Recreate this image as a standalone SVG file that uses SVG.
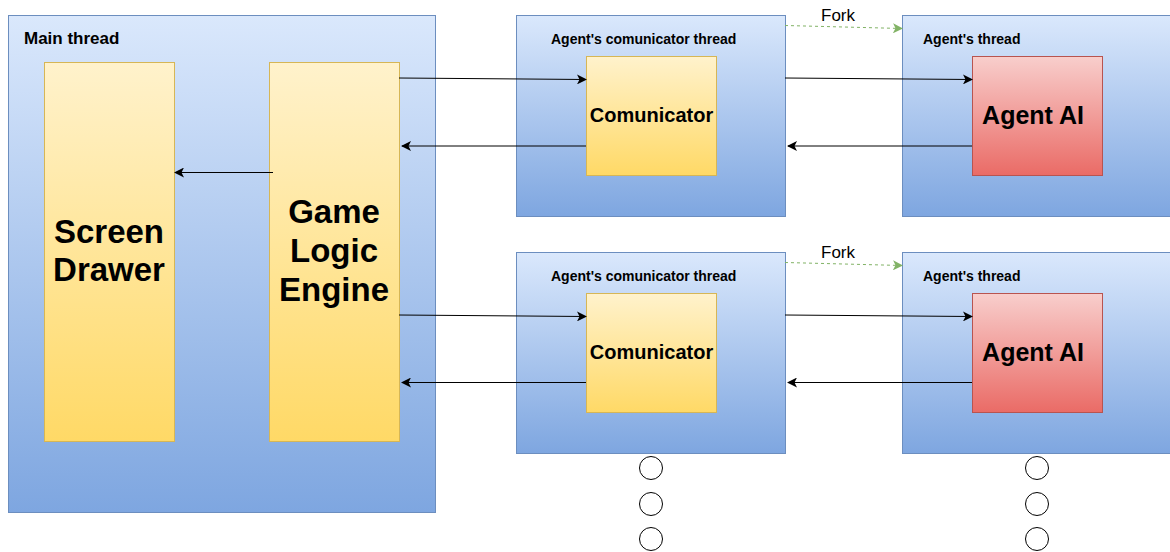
<svg xmlns="http://www.w3.org/2000/svg" width="1170" height="552" viewBox="0 0 1170 552">
  <defs>
    <linearGradient id="gBlue" x1="0" y1="0" x2="0" y2="1">
      <stop offset="0" stop-color="#dae8fc"/>
      <stop offset="1" stop-color="#7ea6e0"/>
    </linearGradient>
    <linearGradient id="gYellow" x1="0" y1="0" x2="0" y2="1">
      <stop offset="0" stop-color="#fff2cc"/>
      <stop offset="1" stop-color="#ffd966"/>
    </linearGradient>
    <linearGradient id="gRed" x1="0" y1="0" x2="0" y2="1">
      <stop offset="0" stop-color="#f8cecc"/>
      <stop offset="1" stop-color="#ea6b66"/>
    </linearGradient>
    <marker id="arrow" viewBox="0 0 10 10" refX="9" refY="5" markerWidth="10" markerHeight="10" markerUnits="userSpaceOnUse" orient="auto">
      <path d="M0,0 L10,5 L0,10 L2.5,5 Z" fill="#000"/>
    </marker>
    <marker id="arrowGreen" viewBox="0 0 10 10" refX="9" refY="5" markerWidth="10" markerHeight="10" markerUnits="userSpaceOnUse" orient="auto">
      <path d="M0,0 L10,5 L0,10 L2.5,5 Z" fill="#82b366"/>
    </marker>
  </defs>
  <style>
    .thread { fill: url(#gBlue); stroke: #6c8ebf; stroke-width: 1; }
    .yellow { fill: url(#gYellow); stroke: #d6b656; stroke-width: 1; }
    .red { fill: url(#gRed); stroke: #b85450; stroke-width: 1; }
    text { font-family: "Liberation Sans", Arial, Helvetica, sans-serif; fill: #000; }
    .title { font-weight: bold; font-size: 17px; }
    .small { font-weight: bold; font-size: 14px; }
    .big { font-weight: bold; font-size: 33px; text-anchor: middle; }
    .mid { font-weight: bold; font-size: 20px; text-anchor: middle; }
    .ai { font-weight: bold; font-size: 25px; text-anchor: middle; }
    .fork { font-size: 17px; text-anchor: middle; }
    .link { fill: none; stroke: #000; stroke-width: 1; marker-end: url(#arrow); }
    .forklink { fill: none; stroke: #82b366; stroke-width: 1; stroke-dasharray: 3 3; marker-end: url(#arrowGreen); }
    .dot { fill: #fff; stroke: #000; stroke-width: 1; }
  </style>

  <rect width="1170" height="552" fill="#fff"/>

  <!-- Main thread -->
  <g id="main-thread">
    <rect class="thread" x="8.5" y="15.5" width="427" height="497"/>
    <text class="title" x="24" y="44">Main thread</text>
  </g>
  <g id="screen-drawer">
    <rect class="yellow" x="44.5" y="62.5" width="130" height="379"/>
    <text class="big" x="109" y="243">Screen</text>
    <text class="big" x="109" y="281">Drawer</text>
  </g>
  <g id="game-logic-engine">
    <rect class="yellow" x="269.5" y="62.5" width="130" height="379"/>
    <text class="big" x="334" y="223">Game</text>
    <text class="big" x="334" y="262">Logic</text>
    <text class="big" x="334" y="301">Engine</text>
  </g>

  <!-- Agent 1 -->
  <g id="comm-thread-1">
    <rect class="thread" x="516.5" y="15.5" width="269" height="201"/>
    <text class="small" x="551" y="43.5">Agent's comunicator thread</text>
  </g>
  <g id="comunicator-1">
    <rect class="yellow" x="586.5" y="56.5" width="130" height="119"/>
    <text class="mid" x="651.5" y="121.5">Comunicator</text>
  </g>
  <g id="agent-thread-1">
    <rect class="thread" x="902.5" y="15.5" width="270" height="201"/>
    <text class="small" x="923" y="43.5">Agent's thread</text>
  </g>
  <g id="agent-ai-1">
    <rect class="red" x="972.5" y="56.5" width="130" height="119"/>
    <text class="ai" x="1033" y="123.5">Agent AI</text>
  </g>

  <!-- Agent 2 -->
  <g id="comm-thread-2">
    <rect class="thread" x="516.5" y="252.5" width="269" height="201"/>
    <text class="small" x="551" y="280.5">Agent's comunicator thread</text>
  </g>
  <g id="comunicator-2">
    <rect class="yellow" x="586.5" y="293.5" width="130" height="119"/>
    <text class="mid" x="651.5" y="358.5">Comunicator</text>
  </g>
  <g id="agent-thread-2">
    <rect class="thread" x="902.5" y="252.5" width="270" height="201"/>
    <text class="small" x="923" y="280.5">Agent's thread</text>
  </g>
  <g id="agent-ai-2">
    <rect class="red" x="972.5" y="293.5" width="130" height="119"/>
    <text class="ai" x="1033" y="360.5">Agent AI</text>
  </g>

  <!-- More agents -->
  <g id="more-agents">
    <circle class="dot" cx="651" cy="468" r="11.5"/>
    <circle class="dot" cx="651" cy="504" r="11.5"/>
    <circle class="dot" cx="651" cy="539" r="11.5"/>
    <circle class="dot" cx="1037" cy="468" r="11.5"/>
    <circle class="dot" cx="1037" cy="504" r="11.5"/>
    <circle class="dot" cx="1037" cy="539" r="11.5"/>
  </g>

  <!-- Connectors -->
  <g id="connectors">
    <path class="link" d="M273,172.5 L175,172.5"/>

    <path class="link" d="M399,78 L586,79.5"/>
    <path class="link" d="M586,146 L402,146"/>
    <path class="link" d="M785,78 L972,79.5"/>
    <path class="link" d="M972,146 L788,146"/>
    <path class="forklink" d="M785,25.5 L902,28.5"/>
    <text class="fork" x="838" y="21">Fork</text>

    <path class="link" d="M399,315 L586,316.5"/>
    <path class="link" d="M586,382.5 L402,382.5"/>
    <path class="link" d="M785,315 L972,316.5"/>
    <path class="link" d="M972,382.5 L788,382.5"/>
    <path class="forklink" d="M785,262.5 L902,265.5"/>
    <text class="fork" x="838" y="258">Fork</text>
  </g>
</svg>
